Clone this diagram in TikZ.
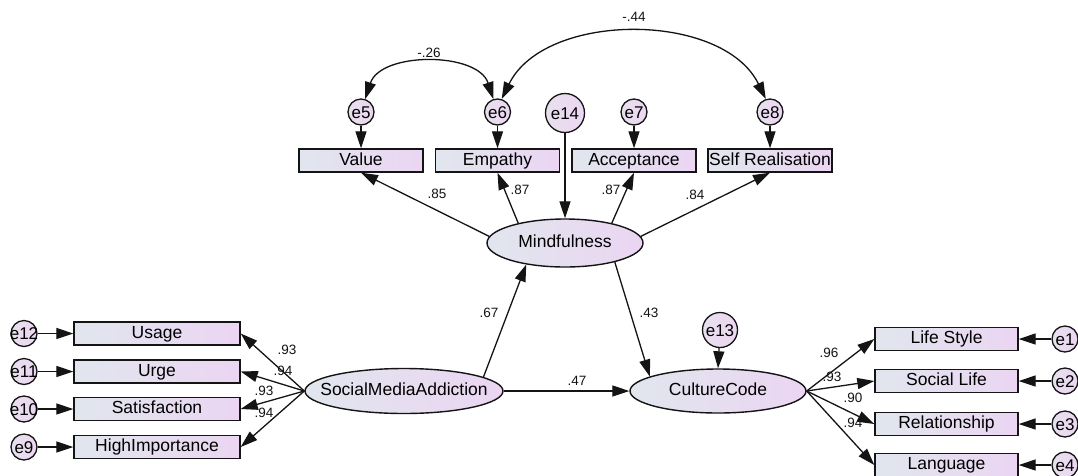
\documentclass[tikz,border=0pt]{standalone}
\usepackage{fontspec}
\setmainfont{Liberation Sans}
\usetikzlibrary{arrows.meta,shapes.geometric}
\definecolor{gL}{HTML}{E1E6EE}
\definecolor{gR}{HTML}{EBD5F2}
\definecolor{cL}{HTML}{E8E0EE}
\definecolor{cR}{HTML}{ECD6F2}
\definecolor{ink}{HTML}{141414}
\newcommand\ztext[1]{\makebox[0pt]{#1}}
\tikzset{
  obsbox/.style={draw=ink, line width=1.4pt, left color=gL, right color=gR, rectangle, inner sep=0pt, minimum height=23pt, text height=12.5pt, text depth=3pt, font=\fontsize{17.5}{17.5}\selectfont},
  latent/.style={draw=ink, line width=1.4pt, left color=gL, right color=gR, ellipse, inner sep=0pt, text height=12.5pt, text depth=3pt, font=\fontsize{17.5}{17.5}\selectfont},
  errc/.style={draw=ink, line width=1.3pt, left color=cL, right color=cR, circle, inner sep=0pt, minimum size=26pt, text height=12.5pt, text depth=0pt, font=\fontsize{17}{17}\selectfont},
  errbig/.style={errc, minimum size=39pt},
  arr/.style={-{Triangle[length=17pt,width=11pt]}, line width=1.3pt, draw=ink},
  darr/.style={{Triangle[length=17pt,width=11pt]}-{Triangle[length=17pt,width=11pt]}, line width=1.3pt, draw=ink},
  lbl/.style={font=\fontsize{13.5}{13.5}\selectfont, inner sep=0pt, text=ink},
}
\begin{document}
\begin{tikzpicture}[x=1pt,y=-1pt]
\useasboundingbox (0,0) rectangle (1078,475);
\fill[white] (0,0) rectangle (1078,475);

% top indicators
\node[obsbox, minimum width=124pt] (Value) at (361,160.5) {Value};
\node[obsbox, minimum width=124pt] (Empathy) at (497.5,160.5) {Empathy};
\node[obsbox, minimum width=124pt] (Accept) at (634,160.5) {Acceptance};
\node[obsbox, minimum width=124pt] (SelfR) at (770,160.5) {Self Realisation};

\node[errc] (e5) at (361,112) {\ztext{e5}};
\node[errc] (e6) at (497.5,112) {\ztext{e6}};
\node[errc] (e7) at (634,112) {\ztext{e7}};
\node[errc] (e8) at (770,112) {\ztext{e8}};
\node[errbig] (e14) at (565,113) {\ztext{e14}};

% latent variables
\node[latent, minimum width=156pt, minimum height=48pt] (Mind) at (565,243) {\ztext{Mindfulness}};
\node[latent, minimum width=198pt, minimum height=45pt] (SMA) at (404,391) {\ztext{SocialMediaAddiction}};
\node[latent, minimum width=176pt, minimum height=44pt] (CC) at (718,391) {\ztext{CultureCode}};
\node[errc, minimum size=35pt] (e13) at (720,330) {\ztext{e13}};

% left indicators
\node[obsbox, minimum width=166pt] (Usage) at (157,333.5) {Usage};
\node[obsbox, minimum width=166pt] (Urge) at (157,371.5) {Urge};
\node[obsbox, minimum width=166pt] (Satis) at (157,409) {Satisfaction};
\node[obsbox, minimum width=166pt] (HighI) at (157,447) {HighImportance};
\node[errc] (e12) at (24,333.5) {\ztext{e12}};
\node[errc] (e11) at (24,371.5) {\ztext{e11}};
\node[errc] (e10) at (24,409) {\ztext{e10}};
\node[errc] (e9) at (24,447) {\ztext{e9}};

% right indicators
\node[obsbox, minimum width=143pt] (LifeS) at (946.5,339) {Life Style};
\node[obsbox, minimum width=143pt] (SocL) at (946.5,381) {Social Life};
\node[obsbox, minimum width=143pt] (Rel) at (946.5,424) {Relationship};
\node[obsbox, minimum width=143pt] (Lang) at (946.5,465) {Language};
\node[errc] (e1) at (1065,339) {\ztext{e1}};
\node[errc] (e2) at (1065,381) {\ztext{e2}};
\node[errc] (e3) at (1065,424) {\ztext{e3}};
\node[errc] (e4) at (1065,465) {\ztext{e4}};

% error arrows
\draw[arr] (e5) -- (Value);
\draw[arr] (e6) -- (Empathy);
\draw[arr] (e7) -- (Accept);
\draw[arr] (e8) -- (SelfR);
\draw[arr] (e14.south) -- (Mind.north);
\draw[arr] (e13) -- (CC.north);
\draw[arr] (e12) -- (Usage);
\draw[arr] (e11) -- (Urge);
\draw[arr] (e10) -- (Satis);
\draw[arr] (e9) -- (HighI);
\draw[arr] (e1) -- (LifeS);
\draw[arr] (e2) -- (SocL);
\draw[arr] (e3) -- (Rel);
\draw[arr] (e4) -- (Lang);

% covariances
\draw[darr] (e5.72) to[out=72, in=108, looseness=1.0] (e6.108);
\draw[darr] (e6.72) to[out=64, in=116, looseness=0.95] (e8.108);
\node[lbl] (c26) at (429,53) {-.26};
\node[lbl] (c44) at (634,17) {-.44};

% loadings Mindfulness
\draw[arr] (Mind.175) -- (Value.south);
\draw[arr] (Mind.157) -- (Empathy.south);
\draw[arr] (Mind.23) -- (Accept.south);
\draw[arr] (Mind.5) -- (SelfR.south);
\node[lbl] (l1) at (437,194) {.85};
\node[lbl] (l2) at (520,190) {.87};
\node[lbl] (l3) at (611,190) {.87};
\node[lbl] (l4) at (695,195) {.84};

% structural paths
\draw[arr] (SMA.10) -- (Mind.209);
\draw[arr] (Mind.339) -- (CC.168);
\draw[arr] (SMA.east) -- (CC.west);
\node[lbl] (p1) at (489,313) {.67};
\node[lbl] (p2) at (649,313) {.43};
\node[lbl] (p3) at (577,381) {.47};

% SMA loadings
\draw[arr] (SMA.west) -- (Usage.east);
\draw[arr] (SMA.west) -- (Urge.east);
\draw[arr] (SMA.west) -- (Satis.east);
\draw[arr] (SMA.west) -- (HighI.east);
\node[lbl] (s1) at (287,350) {.93};
\node[lbl] (s2) at (283,371) {.94};
\node[lbl] (s3) at (264,391) {.93};
\node[lbl] (s4) at (264,413) {.94};

% CC loadings
\draw[arr] (CC.east) -- (LifeS.west);
\draw[arr] (CC.east) -- (SocL.west);
\draw[arr] (CC.east) -- (Rel.west);
\draw[arr] (CC.east) -- (Lang.west);
\node[lbl] (r1) at (829,353) {.96};
\node[lbl] (r2) at (832,377) {.93};
\node[lbl] (r3) at (853,398) {.90};
\node[lbl] (r4) at (853,423) {.94};
\end{tikzpicture}
\end{document}
